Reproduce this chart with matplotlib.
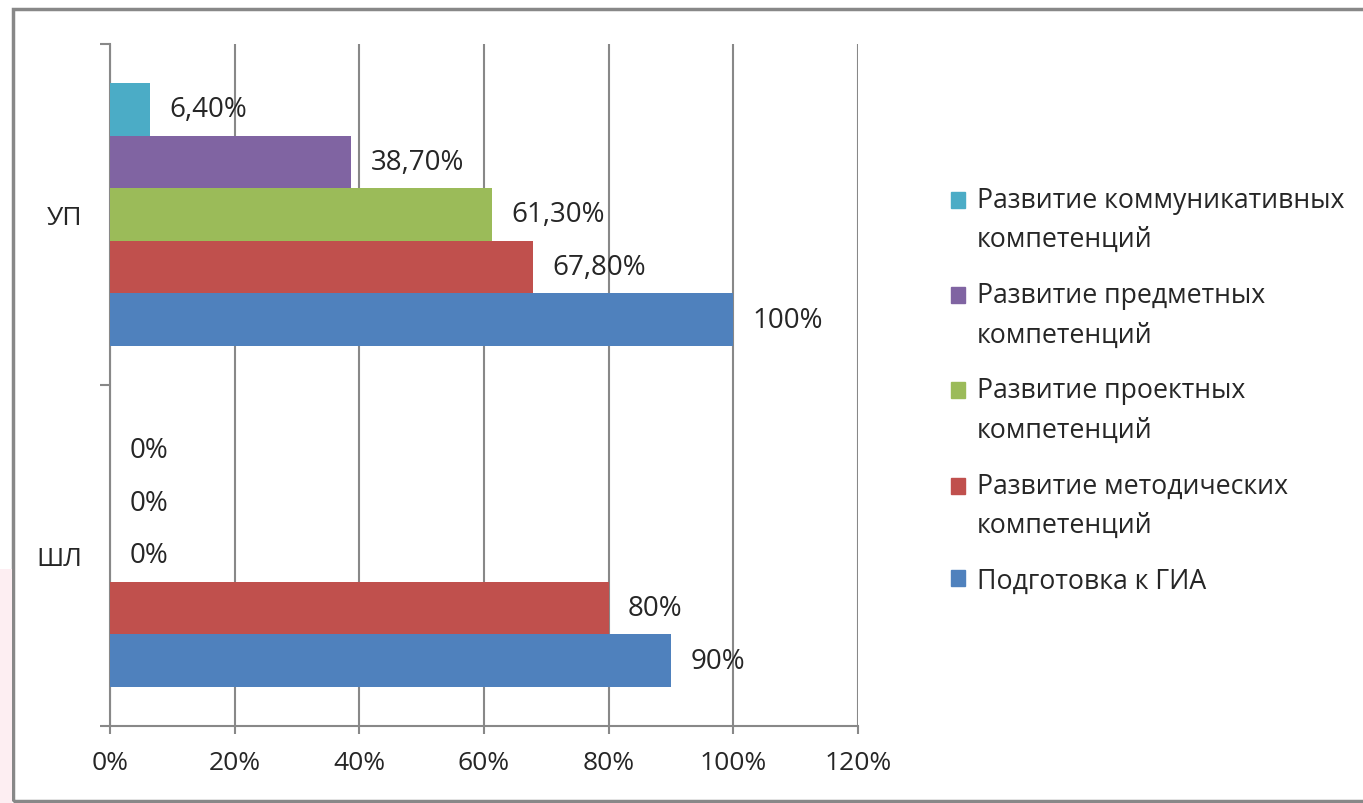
import numpy as np
import matplotlib.pyplot as plt
from matplotlib.patches import Rectangle
from matplotlib.legend_handler import HandlerPatch

plt.rcParams['font.family'] = ['Open Sans', 'DejaVu Sans']

# Data
categories = ['ШЛ', 'УП']
series_names = ['Развитие коммуникативных\nкомпетенций',
                'Развитие предметных\nкомпетенций',
                'Развитие проектных\nкомпетенций',
                'Развитие методических\nкомпетенций',
                'Подготовка к ГИА']
series_colors = ['#4BACC6', '#8064A2', '#9BBB59', '#C0504D', '#4F81BD']
# values per series: [ШЛ, УП]
communicative = [0.0, 6.4]
subject = [0.0, 38.7]
project = [0.0, 61.3]
methodical = [80.0, 67.8]
gia = [90.0, 100.0]
values = [communicative, subject, project, methodical, gia]
x_ticks = [0, 20, 40, 60, 80, 100, 120]


def fmt(v):
    if v == int(v):
        return '%d%%' % v
    return ('%.2f%%' % v).replace('.', ',')


fig = plt.figure(figsize=(13.63, 8.04), dpi=100)
ax = fig.add_axes([110 / 1363, 1 - 727 / 804, 748 / 1363, 682 / 804])

y = np.arange(len(categories))
h = 0.154
offsets = [2 * h, h, 0, -h, -2 * h]
for name, col, vals, off in zip(series_names, series_colors, values, offsets):
    ax.barh(y + off, vals, height=h, color=col, label=name, zorder=3)
    for yi, v in zip(y, vals):
        ax.annotate(fmt(v), (v, yi + off), xytext=(14, 0), textcoords='offset points',
                    ha='left', va='center', fontsize=20, color='#262626', zorder=4)

ax.set_xlim(0, 120)
ax.set_ylim(-0.5, 1.5)
ax.set_xticks(x_ticks)
ax.set_xticklabels(['%d%%' % t for t in x_ticks], fontsize=19, color='#262626')
ax.tick_params(axis='x', direction='out', length=6, color='#888888', width=1.5, pad=11)

# category boundary ticks, labels at centres
ax.set_yticks([-0.5, 0.5, 1.5])
ax.set_yticklabels(['', '', ''])
ax.set_yticks(y, minor=True)
ax.set_yticklabels(categories, minor=True, fontsize=19, color='#262626')
ax.tick_params(axis='y', which='major', direction='out', length=7, color='#888888', width=1.5)
ax.tick_params(axis='y', which='minor', length=0, pad=20)

ax.grid(axis='x', color='#888888', linewidth=1.5, zorder=0)
for s in ['top', 'right']:
    ax.spines[s].set_visible(False)
for s in ['left', 'bottom']:
    ax.spines[s].set_color('#888888')
    ax.spines[s].set_linewidth(1.5)


# legend: square next to the first line of each label
def square_up(legend, orig_handle, xdescent, ydescent, width, height, fontsize):
    return Rectangle((-xdescent, -ydescent + 0.78 * fontsize), width, height)


proxies = [Rectangle((0, 0), 1, 1, color=c) for c in series_colors]
hmap = {p: HandlerPatch(patch_func=square_up) for p, n in zip(proxies, series_names) if '\n' in n}
leg = fig.legend(proxies, series_names, loc='upper left', handler_map=hmap,
                 bbox_to_anchor=(940 / 1363, 1 - 176 / 804), frameon=False,
                 fontsize=19.2, handlelength=0.55, handleheight=0.55, handletextpad=0.42,
                 labelspacing=1.04, borderaxespad=0)
for t in leg.get_texts():
    t.set_color('#262626')
    t.set_linespacing(1.55)

# outer frame
fig.patches.append(Rectangle((13 / 1363, 2 / 804), 1.0, 1 - 12 / 804, transform=fig.transFigure,
                             fill=False, edgecolor='#888888', linewidth=2.5))
fig.patches.append(Rectangle((0, 0), 12 / 1363, 234 / 804, transform=fig.transFigure,
                             color='#fdeef2', linewidth=0))

fig.savefig('out.png', dpi=100)
